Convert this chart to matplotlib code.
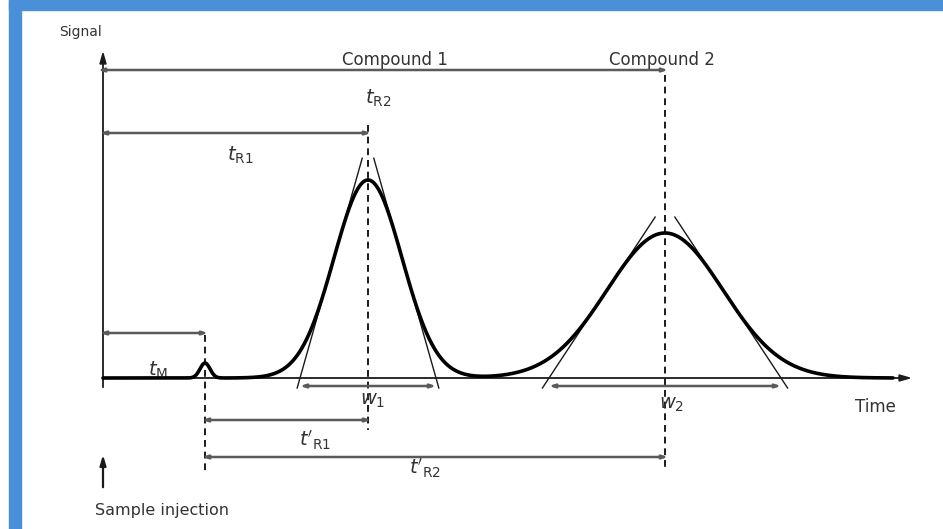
import matplotlib.pyplot as plt
import matplotlib.patches as mpatches
import numpy as np

# retention data (time units), heights (signal units), peak sigmas
peak_names = ['M', 'R1', 'R2']
peak_times = [1.02, 2.65, 5.62]
peak_heights = [0.15, 1.98, 1.45]
peak_sigmas = [0.05, 0.34, 0.58]
compound_labels = ['Compound 1', 'Compound 2']

t = np.linspace(0.0, 7.9, 2000)
signal = np.zeros_like(t)
for mu, h, s in zip(peak_times, peak_heights, peak_sigmas):
    signal += h * np.exp(-0.5 * ((t - mu) / s) ** 2)

fig = plt.figure(figsize=(9.43, 5.29), dpi=100)
ax = fig.add_axes([0, 0, 1, 1])
ax.set_xlim(-1.03, 8.40)
ax.set_ylim(-1.51, 3.78)
ax.axis('off')

# blue frame
W, H = 943.0, 529.0
fig.patches.append(mpatches.Rectangle((9 / W, 0), 12 / W, 1, transform=fig.transFigure,
                                      color='#4a90d9', zorder=0))
fig.patches.append(mpatches.Rectangle((9 / W, 1 - 10 / H), 1, 10 / H, transform=fig.transFigure,
                                      color='#4a90d9', zorder=0))

ink = '#1a1a1a'
dim = '#5a5a5a'
txt = '#333333'

# axes
ax.annotate('', xy=(8.12, 0), xytext=(0, 0),
            arrowprops=dict(arrowstyle='-|>,head_length=0.7,head_width=0.2', color=ink, lw=1.3))
ax.annotate('', xy=(0, 3.30), xytext=(0, -0.12),
            arrowprops=dict(arrowstyle='-|>,head_length=0.7,head_width=0.2', color=ink, lw=1.3))

# chromatogram
ax.plot(t, signal, color='black', lw=2.6, solid_capstyle='round', zorder=5)

# tangents at inflection points -> base width w = 4 sigma
for mu, h, s in zip(peak_times[1:], peak_heights[1:], peak_sigmas[1:]):
    apex = 2 * h * np.exp(-0.5)
    top = 1.11 * h
    for side in (-1, 1):
        x0 = mu + side * 2 * s
        y_lo, y_hi = -0.1, top
        xs = [x0 - side * y_lo * 2 * s / apex, x0 - side * y_hi * 2 * s / apex]
        ax.plot(xs, [y_lo, y_hi], color=ink, lw=1.0, zorder=4)

# dashed verticals
dash_ranges = [(0.43, -0.94), (2.53, -0.52), (3.03, -0.92)]
for x, (y0, y1) in zip(peak_times, dash_ranges):
    ax.plot([x, x], [y0, y1], color=ink, lw=1.4, ls=(0, (3.5, 2.5)), zorder=3)

arrow_kw = dict(arrowstyle='<|-|>,head_length=0.3,head_width=0.1', color=dim, lw=1.8,
                shrinkA=0, shrinkB=0)

def dim_line(x0, x1, y):
    ax.annotate('', xy=(x1, y), xytext=(x0, y), arrowprops=arrow_kw)

# retention times from injection
dim_line(-0.05, peak_times[2] + 0.03, 3.08)
dim_line(-0.03, peak_times[1] + 0.03, 2.45)
dim_line(-0.03, peak_times[0] + 0.03, 0.45)
# adjusted retention times
dim_line(peak_times[0] - 0.03, peak_times[1] + 0.03, -0.42)
dim_line(peak_times[0] - 0.03, peak_times[2] + 0.03, -0.79)
# base widths
for mu, s in zip(peak_times[1:], peak_sigmas[1:]):
    dim_line(mu - 2 * s, mu + 2 * s, -0.08)

# sample injection arrow
ax.annotate('', xy=(0, -0.74), xytext=(0, -1.12),
            arrowprops=dict(arrowstyle='-|>,head_length=0.6,head_width=0.18', color=ink, lw=1.6))

fs = 12
ax.text(-0.23, 3.46, 'Signal', fontsize=10, color=txt, ha='center', va='center')
ax.text(2.92, 3.18, compound_labels[0], fontsize=fs, color=txt, ha='center', va='center')
ax.text(5.59, 3.18, compound_labels[1], fontsize=fs, color=txt, ha='center', va='center')
ax.text(2.75, 2.80, r'$t_{\mathrm{R2}}$', fontsize=14, color=txt, ha='center', va='center')
ax.text(1.37, 2.23, r'$t_{\mathrm{R1}}$', fontsize=14, color=txt, ha='center', va='center')
ax.text(0.55, 0.08, r'$t_{\mathrm{M}}$', fontsize=14, color=txt, ha='center', va='center')
ax.text(2.70, -0.22, r'$w_{1}$', fontsize=14, color=txt, ha='center', va='center')
ax.text(5.69, -0.27, r'$w_{2}$', fontsize=14, color=txt, ha='center', va='center')
ax.text(7.72, -0.29, 'Time', fontsize=fs, color=txt, ha='center', va='center')
ax.text(2.12, -0.62, r"$t'_{\mathrm{R1}}$", fontsize=14, color=txt, ha='center', va='center')
ax.text(3.22, -0.90, r"$t'_{\mathrm{R2}}$", fontsize=14, color=txt, ha='center', va='center')
ax.text(-0.08, -1.32, 'Sample injection', fontsize=11.5, color=txt, ha='left', va='center')

fig.savefig('out.png', dpi=100, facecolor='white')
